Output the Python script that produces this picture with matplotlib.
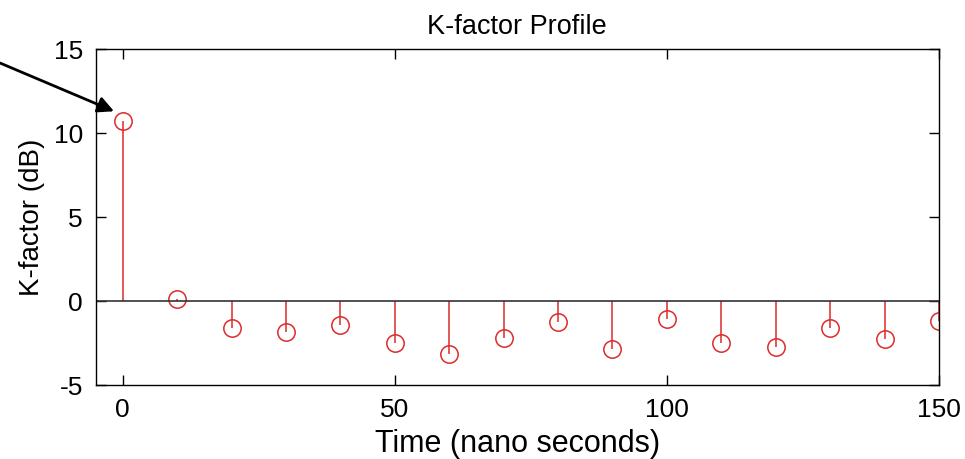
import numpy as np
import matplotlib
matplotlib.use('Agg')
import matplotlib.pyplot as plt

plt.rcParams['font.family'] = ['Liberation Sans', 'DejaVu Sans']
plt.rcParams['axes.unicode_minus'] = False

# K-factor per delay tap
time_ns = [0, 10, 20, 30, 40, 50, 60, 70, 80, 90, 100, 110, 120, 130, 140, 150]
k_factor_db = [10.75, 0.15, -1.62, -1.85, -1.45, -2.5, -3.15, -2.17, -1.22,
               -2.87, -1.08, -2.47, -2.73, -1.63, -2.23, -1.19]
x_ticks = [0, 50, 100, 150]
y_ticks = [-5, 0, 5, 10, 15]

red = '#dd2a2a'

fig = plt.figure(figsize=(9.65, 4.59), dpi=100)
ax = fig.add_axes([0.099, 0.161, 0.874, 0.732])

markers, stems, base = ax.stem(time_ns, k_factor_db, linefmt='-', markerfmt='o', basefmt='-')
plt.setp(stems, color=red, linewidth=1.1)
plt.setp(markers, markerfacecolor='none', markeredgecolor=red, markersize=12.5,
         markeredgewidth=1.1)
plt.setp(base, color='#333333', linewidth=1.2)
base.set_xdata([-5, 150])

ax.set_xlim(-5, 150)
ax.set_ylim(-5, 15)
ax.set_xticks(x_ticks)
ax.set_yticks(y_ticks)
ax.tick_params(direction='in', length=7, width=1, labelsize=19, top=True, right=True, pad=9)
for s in ax.spines.values():
    s.set_linewidth(1.0)

ax.set_title('K-factor Profile', fontsize=19.5, pad=11)
ax.set_xlabel('Time (nano seconds)', fontsize=22, labelpad=5)
ax.set_ylabel('K-factor (dB)', fontsize=20, labelpad=6)

# arrow pointing at the first tap
ax.annotate('', xy=(-1.6, 11.3), xycoords='data',
            xytext=(0, 459 - 63), textcoords='figure pixels',
            arrowprops=dict(arrowstyle='-|>', color='black', lw=2,
                            mutation_scale=24, shrinkA=0, shrinkB=0))

fig.savefig('out.png', dpi=100)
